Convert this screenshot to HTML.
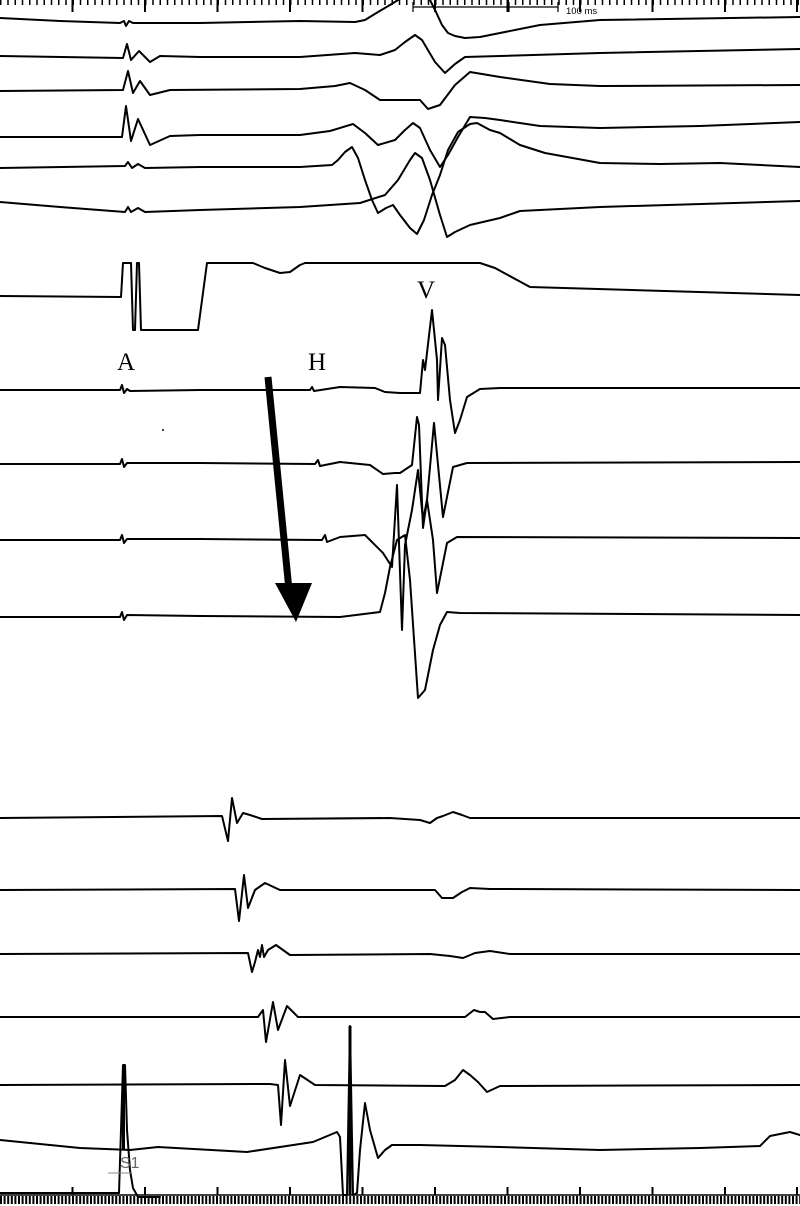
<!DOCTYPE html>
<html><head><meta charset="utf-8"><style>
html,body{margin:0;padding:0;background:#fff;}
svg{display:block;}
</style></head><body>
<svg width="800" height="1206" viewBox="0 0 800 1206" xmlns="http://www.w3.org/2000/svg">
<rect width="800" height="1206" fill="#fff"/>
<!-- top ruler -->
<line x1="0" y1="2.5" x2="800" y2="2.5" stroke="#000" stroke-width="5" stroke-dasharray="1.5 5.75"/>
<g stroke="#000" stroke-width="2">
<line x1="72.5" y1="0" x2="72.5" y2="12"/><line x1="145" y1="0" x2="145" y2="12"/><line x1="217.5" y1="0" x2="217.5" y2="12"/><line x1="290" y1="0" x2="290" y2="12"/><line x1="362.5" y1="0" x2="362.5" y2="12"/><line x1="435" y1="0" x2="435" y2="12"/><line x1="507.5" y1="0" x2="507.5" y2="12"/><line x1="580" y1="0" x2="580" y2="12"/><line x1="652.5" y1="0" x2="652.5" y2="12"/><line x1="725" y1="0" x2="725" y2="12"/><line x1="797" y1="0" x2="797" y2="12"/>
</g>
<g stroke="#000" stroke-width="1.2">
<line x1="413" y1="7" x2="558" y2="7"/><line x1="413" y1="2" x2="413" y2="12"/><line x1="509" y1="2" x2="509" y2="12"/><line x1="558" y1="2" x2="558" y2="12"/>
</g>
<text x="566" y="14" font-family="Liberation Sans, sans-serif" font-size="9.5" fill="#000">100 ms</text>

<g fill="none" stroke="#000" stroke-width="2" stroke-linejoin="round" stroke-linecap="round">
<!-- row1 -->
<path d="M0,18 L60,21 L120,23 L124,21 L126,26 L129,21 L133,23 L200,23 L300,21 L355,22 L365,20 L378,12 L390,5 L398,0 M430,0 L436,12 L442,25 L448,33 L455,36 L465,38 L480,37 L500,33 L540,25 L600,20 L800,17"/>
<!-- row2 -->
<path d="M0,56 L123,58 L127,44 L131,60 L139,51 L150,62 L160,56 L200,57 L300,57 L355,53 L380,55 L395,50 L405,42 L415,35 L422,40 L435,62 L445,73 L455,64 L465,57 L500,56 L600,53 L800,49"/>
<!-- row3 -->
<path d="M0,91 L123,90 L128,71 L133,93 L140,81 L150,95 L170,90 L300,89 L335,86 L350,83 L365,90 L380,100 L400,100 L420,100 L428,109 L440,105 L455,85 L470,72 L500,77 L550,84 L600,86 L800,85"/>
<!-- row4 -->
<path d="M0,137 L122,137 L126,106 L131,141 L138,119 L150,145 L170,136 L200,135 L300,135 L330,131 L353,124 L365,133 L378,145 L395,140 L405,130 L413,123 L420,128 L430,150 L440,167 L448,155 L458,137 L470,117 L485,118 L500,120 L540,126 L600,128 L700,126 L800,122"/>
<!-- row5 -->
<path d="M0,168 L125,166 L128,162 L132,168 L138,164 L145,168 L200,167 L300,167 L332,165 L338,160 L345,152 L352,147 L358,158 L365,180 L372,200 L378,213 L386,208 L393,205 L400,215 L410,228 L417,234 L424,220 L432,195 L440,175 L448,150 L458,132 L470,124 L477,123 L490,130 L500,133 L520,145 L545,153 L600,163 L660,164 L720,163 L800,167"/>
<!-- row6 -->
<path d="M0,202 L60,207 L125,212 L128,207 L131,212 L138,208 L145,212 L200,210 L300,207 L360,203 L385,195 L398,180 L410,160 L415,153 L422,158 L430,180 L440,215 L447,237 L455,232 L470,225 L500,218 L520,211 L600,207 L800,201"/>
<!-- pacing -->
<path d="M0,296 L121,297 L123,263 L131,263 L133,330 L135,330 L137,263 L139,263 L141,330 L198,330 L207,263 L253,263 L265,268 L280,273 L290,272 L300,265 L305,263 L480,263 L495,268 L530,287 L800,295"/>
<!-- row8 -->
<path d="M0,390 L120,390 L122,385 L124,393 L127,389 L130,391 L200,390 L310,390 L312,387 L314,391 L340,387 L375,388 L385,392 L400,393 L420,393 L423,360 L425,370 L432,310 L437,360 L438,400 L442,338 L445,345 L450,400 L455,433 L460,420 L467,397 L480,389 L500,388 L800,388"/>
<!-- row9 -->
<path d="M0,464 L120,464 L122,459 L124,467 L127,463 L200,463 L315,464 L318,460 L320,466 L340,462 L370,465 L383,474 L395,473 L400,473 L412,465 L417,417 L419,425 L423,528 L427,500 L434,423 L443,517 L453,467 L467,463 L800,462"/>
<!-- row10 -->
<path d="M0,540 L120,540 L122,535 L124,543 L127,539 L200,539 L322,540 L325,535 L327,542 L340,537 L365,535 L383,553 L392,567 L397,485 L402,630 L405,545 L412,510 L418,470 L423,520 L427,500 L433,540 L437,593 L447,543 L457,537 L800,538"/>
<!-- row11 -->
<path d="M0,617 L120,617 L122,612 L124,620 L127,615 L200,616 L340,617 L380,612 L385,593 L390,567 L397,540 L405,535 L410,580 L418,698 L425,690 L433,650 L440,625 L447,612 L460,613 L800,615"/>
<!-- bottom rows -->
<path d="M0,818 L222,816 L228,841 L232,798 L237,823 L243,813 L250,815 L262,819 L390,818 L420,820 L430,823 L437,818 L443,816 L453,812 L462,815 L470,818 L800,818"/>
<path d="M0,890 L235,889 L239,921 L244,875 L248,908 L255,890 L265,883 L280,890 L435,890 L442,898 L453,898 L462,892 L470,888 L490,889 L800,890"/>
<path d="M0,954 L248,953 L252,972 L255,962 L258,950 L260,957 L262,945 L264,957 L268,950 L276,945 L290,955 L430,954 L450,956 L463,958 L475,953 L490,951 L510,954 L800,954"/>
<path d="M0,1017 L258,1017 L263,1010 L266,1042 L273,1002 L278,1030 L287,1006 L298,1017 L465,1017 L474,1010 L480,1012 L485,1012 L493,1019 L510,1017 L800,1017"/>
<path d="M0,1085 L270,1084 L278,1085 L281,1125 L285,1060 L290,1106 L300,1075 L315,1085 L445,1086 L455,1080 L463,1070 L470,1075 L478,1082 L487,1092 L500,1086 L800,1085"/>
<path d="M0,1140 L80,1148 L130,1150 L158,1147 L247,1152 L313,1142 L337,1132 L340,1137 L343,1195 L347,1195 L350,1026 L353,1195 L357,1193 L360,1150 L365,1103 L370,1130 L378,1158 L385,1150 L392,1145 L420,1145 L500,1147 L600,1150 L700,1148 L760,1146 L770,1136 L790,1132 L800,1135"/>
<path d="M0,1193 L119,1193 L121,1130 L123,1065 L125,1065 L127,1130 L130,1170 L133,1188 L138,1197 L160,1197"/>
</g>
<line x1="350" y1="1026" x2="350" y2="1195" stroke="#000" stroke-width="3"/>
<line x1="123.5" y1="1065" x2="123.5" y2="1150" stroke="#000" stroke-width="3"/>

<!-- S1 label -->
<text x="120" y="1168" font-family="Liberation Sans, sans-serif" font-size="16" fill="#666">S1</text>
<line x1="108" y1="1173" x2="132" y2="1173" stroke="#888" stroke-width="1"/>

<!-- bottom ruler -->
<line x1="0" y1="1195" x2="800" y2="1195" stroke="#000" stroke-width="1.5"/>
<line x1="0" y1="1200" x2="800" y2="1200" stroke="#000" stroke-width="8" stroke-dasharray="2 1.6"/>
<g stroke="#000" stroke-width="2">
<line x1="72.5" y1="1187" x2="72.5" y2="1195"/><line x1="145" y1="1187" x2="145" y2="1195"/><line x1="217.5" y1="1187" x2="217.5" y2="1195"/><line x1="290" y1="1187" x2="290" y2="1195"/><line x1="362.5" y1="1187" x2="362.5" y2="1195"/><line x1="435" y1="1187" x2="435" y2="1195"/><line x1="507.5" y1="1187" x2="507.5" y2="1195"/><line x1="580" y1="1187" x2="580" y2="1195"/><line x1="652.5" y1="1187" x2="652.5" y2="1195"/><line x1="725" y1="1187" x2="725" y2="1195"/><line x1="797" y1="1187" x2="797" y2="1195"/>
</g>

<!-- labels -->
<g font-family="Liberation Serif, serif" font-size="25" fill="#000">
<text x="117" y="370">A</text>
<text x="308" y="370">H</text>
<text x="417" y="298">V</text>
</g>
<circle cx="163" cy="430" r="1" fill="#000"/>

<!-- arrow -->
<line x1="268" y1="377" x2="289" y2="590" stroke="#000" stroke-width="7"/>
<polygon points="275,583 312,583 296,622" fill="#000"/>
</svg>
</body></html>
